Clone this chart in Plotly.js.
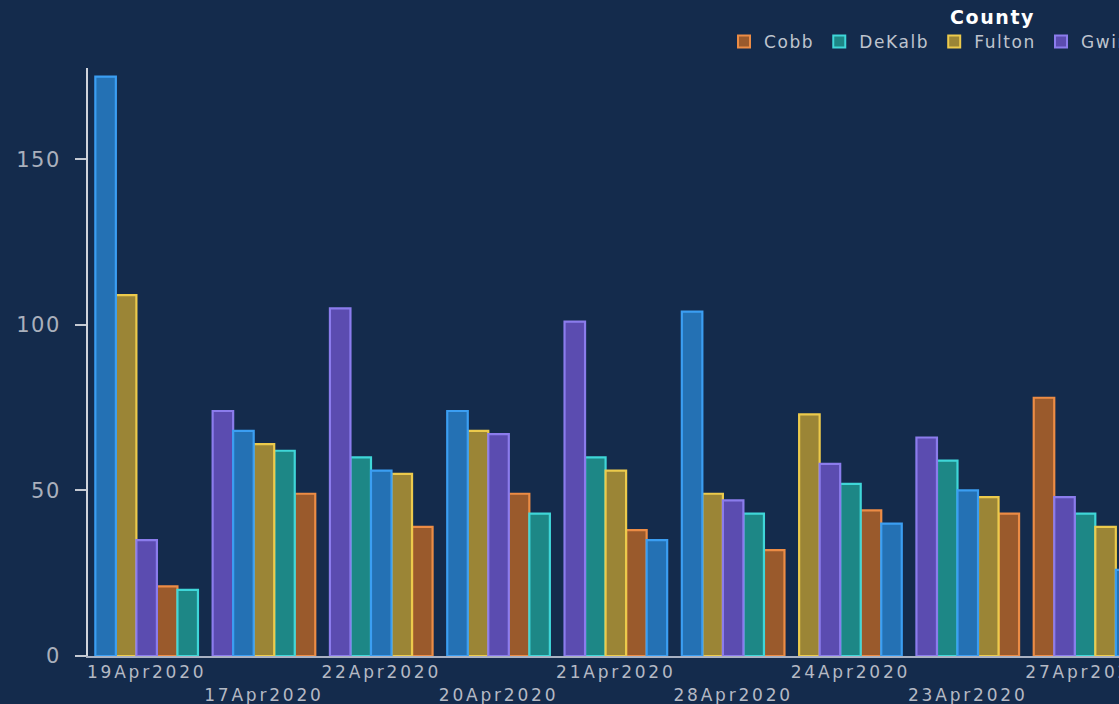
<!DOCTYPE html>
<html>
<head>
<meta charset="utf-8">
<script src="https://cdn.plot.ly/plotly-3.0.1.min.js"></script>
<style>
  html, body { margin: 0; padding: 0; background: #142b4c; overflow: hidden; width: 1119px; height: 704px; }
  #chart { width: 1300px; height: 704px; }
  .xtick text { letter-spacing: 2.8px; }
  .ytick text { letter-spacing: 1.5px; }
  text.legendtext { letter-spacing: 1.6px; }
  text.legendtitletext { letter-spacing: 1.6px; }
</style>
</head>
<body>
<div id="chart"></div>
<script>
// Dates, ordered as in the chart (by daily total, descending)
const dates = ['19Apr2020','17Apr2020','22Apr2020','20Apr2020','21Apr2020','28Apr2020','24Apr2020','23Apr2020','27Apr2020','26Apr2020'];
const counties = ['Cobb','DeKalb','Fulton','Gwinnett','Hall'];
// Values per county, aligned with dates
const cobb     = [21, 49, 39, 49, 38, 32, 44, 43, 78, 30];
const dekalb   = [20, 62, 60, 43, 60, 43, 52, 59, 43, 35];
const fulton   = [109, 64, 55, 68, 56, 49, 73, 48, 39, 40];
const gwinnett = [35, 74, 105, 67, 101, 47, 58, 66, 48, 55];
const hall     = [175, 68, 56, 74, 35, 104, 40, 50, 26, 25];

const series = [cobb, dekalb, fulton, gwinnett, hall];
const fills  = ['#9a5a2c', '#1d8786', '#9b8536', '#5b4cb0', '#2471b4'];
const edges  = ['#ec8c45', '#3fd6d8', '#ecca4c', '#8b7cec', '#3b9ef2'];

// Within each date, bars are sorted from largest to smallest
const barW = 0.175;
function rankOf(ci, di) {
  const v = series[ci][di];
  let r = 0;
  for (let k = 0; k < series.length; k++) {
    const w = series[k][di];
    if (w > v || (w === v && k < ci)) r++;
  }
  return r;
}

const traces = counties.map((name, ci) => ({
  type: 'bar',
  name: name,
  x: dates,
  y: series[ci],
  width: dates.map(() => barW),
  offset: dates.map((d, di) => -barW * series.length / 2 + rankOf(ci, di) * barW),
  marker: { color: fills[ci], line: { color: edges[ci], width: 2.2 } }
}));

// Staggered tick labels: every second label on a lower line
const tickText = dates.map((d, i) => (i % 2 === 1 ? '<br>' + d : d));

const layout = {
  width: 1300,
  height: 704,
  paper_bgcolor: '#142b4c',
  plot_bgcolor: '#142b4c',
  font: { family: 'DejaVu Sans, sans-serif', color: '#b4b9c4' },
  barmode: 'overlay',
  margin: { l: 88, r: 39, t: 68, b: 48, autoexpand: false },
  showlegend: true,
  legend: {
    orientation: 'h',
    x: 1, xanchor: 'right',
    y: 1.015, yanchor: 'bottom',
    font: { size: 17, color: '#bfc4ce' },
    title: { text: '<b>County</b>', side: 'top center', font: { size: 19, color: '#ffffff' } },
    bgcolor: 'rgba(0,0,0,0)',
    itemsizing: 'constant'
  },
  xaxis: {
    type: 'category',
    tickmode: 'array',
    tickvals: dates,
    ticktext: tickText,
    tickangle: 0,
    range: [-0.5, dates.length - 0.5],
    showgrid: false,
    zeroline: false,
    showline: true,
    linecolor: '#a9b1c2',
    linewidth: 2,
    ticks: '',
    ticklabelstandoff: 0,
    tickfont: { size: 17, color: '#b4b9c4' },
    fixedrange: true
  },
  yaxis: {
    range: [0, 177.6],
    tickvals: [0, 50, 100, 150],
    showgrid: false,
    zeroline: false,
    showline: true,
    linecolor: '#d0d4dc',
    linewidth: 2,
    ticks: 'outside',
    ticklen: 11,
    tickwidth: 2,
    tickcolor: '#c4c9d2',
    ticklabelstandoff: 10,
    tickfont: { size: 21, color: '#aab0bc' },
    fixedrange: true
  }
};

Plotly.newPlot('chart', traces, layout, { displayModeBar: false, staticPlot: true });
</script>
</body>
</html>
